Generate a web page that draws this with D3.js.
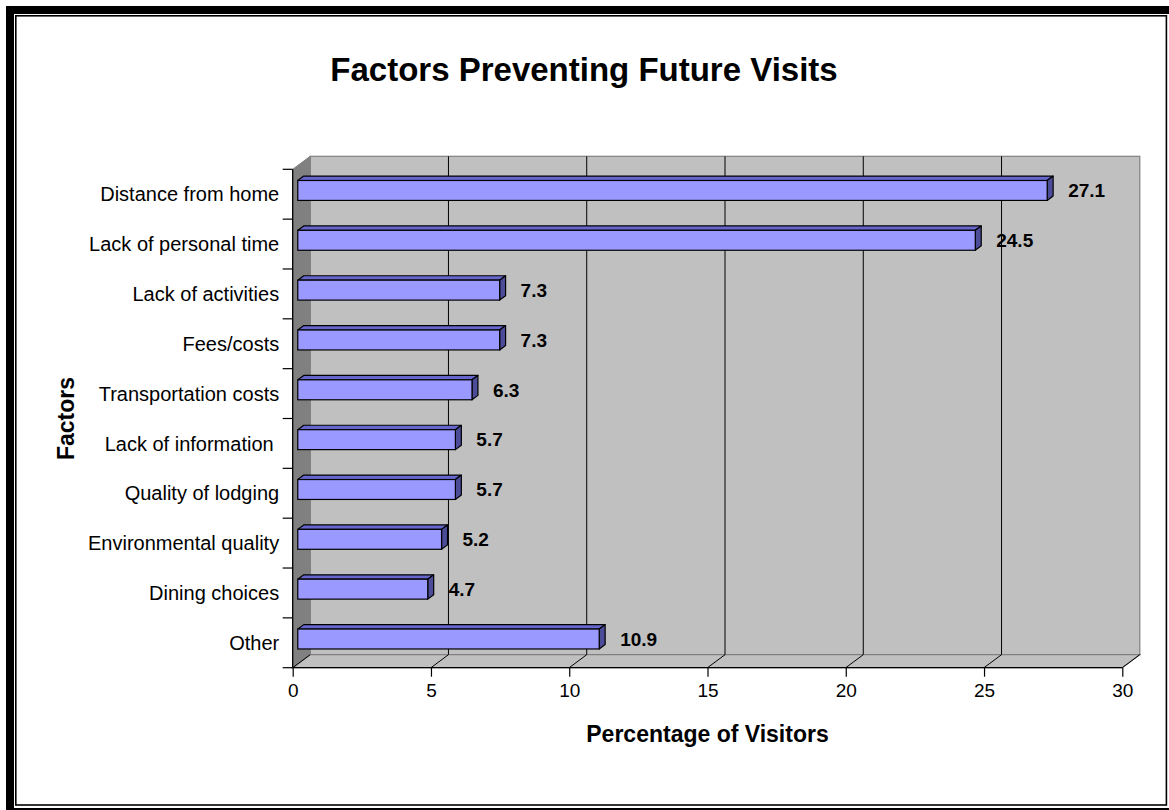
<!DOCTYPE html>
<html>
<head>
<meta charset="utf-8">
<script src="https://cdn.jsdelivr.net/npm/d3@7/dist/d3.min.js"></script>
<style>
  html, body { margin: 0; padding: 0; background: #fff; }
  svg { display: block; font-family: Arial, "Liberation Sans", sans-serif; }
</style>
</head>
<body>
<svg id="chart" width="1169" height="810"></svg>
<script>
// Survey results: share of visitors citing each factor
const categories = [
  "Distance from home",
  "Lack of personal time",
  "Lack of activities",
  "Fees/costs",
  "Transportation costs",
  "Lack of information ",
  "Quality of lodging",
  "Environmental quality",
  "Dining choices",
  "Other"
];
const values = [27.1, 24.5, 7.3, 7.3, 6.3, 5.7, 5.7, 5.2, 4.7, 10.9];
const xTicks = [0, 5, 10, 15, 20, 25, 30];

const title = "Factors Preventing Future Visits";
const xTitle = "Percentage of Visitors";
const yTitle = "Factors";

const svg = d3.select("#chart");

// Frame: heavy outer border plus thin inner rule
svg.append("rect").attr("x", 10).attr("y", 10).attr("width", 1163).attr("height", 802)
  .attr("fill", "#fff").attr("stroke", "#000").attr("stroke-width", 8);
svg.append("rect").attr("x", 15.8).attr("y", 15.8).attr("width", 1150.6).attr("height", 789.2)
  .attr("fill", "none").attr("stroke", "#000").attr("stroke-width", 1.6);

// Front plane of the 3D plot
const x = d3.scaleLinear().domain([0, 30]).range([292.7, 1122.3]);
const y = d3.scaleBand().domain(categories).range([169.3, 667.7]).paddingInner(0).paddingOuter(0);
const DX = 17.5, DY = -13;            // depth vector from front plane to back wall
const F0 = 0.29, F1 = 0.63;           // depth span of bars
const P = (px, py, f) => [px + f * DX, py + f * DY];

const yTop = y.range()[0], yBot = y.range()[1];
const x0 = x(0), x1 = x(30);

const g = svg.append("g");
const poly = (pts) => pts.map(p => p.join(",")).join(" ");

// Back wall
g.append("rect").attr("x", x0 + DX).attr("y", yTop + DY)
  .attr("width", x1 - x0).attr("height", yBot - yTop)
  .attr("fill", "#C0C0C0").attr("stroke", "#808080").attr("stroke-width", 1.2);

// Left side wall
g.append("polygon")
  .attr("points", poly([[x0, yTop], P(x0, yTop, 1), P(x0, yBot, 1), [x0, yBot]]))
  .attr("fill", "#808080").attr("stroke", "#808080").attr("stroke-width", 1);

// Floor
g.append("polygon")
  .attr("points", poly([[x0, yBot], P(x0, yBot, 1), P(x1, yBot, 1), [x1, yBot]]))
  .attr("fill", "#C0C0C0").attr("stroke", "#808080").attr("stroke-width", 1.2);

// Gridlines on back wall and their floor continuations
xTicks.forEach(t => {
  const bx = x(t) + DX;
  if (t > 0 && t < 30) {
    g.append("line").attr("x1", bx).attr("x2", bx).attr("y1", yTop + DY).attr("y2", yBot + DY)
      .attr("stroke", "#000").attr("stroke-width", 1);
  }
  g.append("line").attr("x1", x(t)).attr("y1", yBot).attr("x2", bx).attr("y2", yBot + DY)
    .attr("stroke", "#000").attr("stroke-width", 1);
});

// Front edge of floor (category axis baseline) and the value axis line
g.append("line").attr("x1", x0).attr("x2", x1).attr("y1", yBot).attr("y2", yBot)
  .attr("stroke", "#000").attr("stroke-width", 1.3);
g.append("line").attr("x1", x0).attr("x2", x0).attr("y1", yTop).attr("y2", yBot)
  .attr("stroke", "#000").attr("stroke-width", 1.3);

// Bottom axis ticks and labels
const xAxis = d3.axisBottom(x).tickValues(xTicks).tickSize(9).tickPadding(7).tickFormat(d3.format("d"));
const xa = svg.append("g").attr("transform", `translate(0,${yBot})`).call(xAxis);
xa.select(".domain").remove();
xa.selectAll(".tick line").attr("stroke", "#000").attr("stroke-width", 1.2);
xa.selectAll(".tick text").attr("font-size", 19).attr("fill", "#000")
  .attr("font-family", "Arial, 'Liberation Sans', sans-serif");

// Left axis: ticks at category boundaries, labels centered in bands
const boundaries = categories.map(c => y(c)).concat([yBot]);
svg.append("g").selectAll("line").data(boundaries).join("line")
  .attr("x1", x0 - 10).attr("x2", x0).attr("y1", d => d).attr("y2", d => d)
  .attr("stroke", "#000").attr("stroke-width", 1.2);

svg.append("g").selectAll("text").data(categories).join("text")
  .attr("x", x0 - 13.5)
  .attr("y", d => y(d) + y.bandwidth() / 2)
  .attr("dy", "0.36em")
  .attr("text-anchor", "end")
  .attr("xml:space", "preserve")
  .style("white-space", "pre")
  .attr("font-size", 20)
  .attr("fill", "#000")
  .text(d => d);

// Bars as 3D boxes
const barH = y.bandwidth() * 0.4;
const bars = svg.append("g");
categories.forEach((c, i) => {
  const v = values[i];
  const cy = y(c) + y.bandwidth() / 2;
  const t = cy - barH / 2, b = cy + barH / 2;
  const xl = x(0), xr = x(v);
  // top face
  bars.append("polygon")
    .attr("points", poly([P(xl, t, F0), P(xl, t, F1), P(xr, t, F1), P(xr, t, F0)]))
    .attr("fill", "#6666CC").attr("stroke", "#000").attr("stroke-width", 1.2).attr("stroke-linejoin", "round");
  // end face
  bars.append("polygon")
    .attr("points", poly([P(xr, t, F0), P(xr, t, F1), P(xr, b, F1), P(xr, b, F0)]))
    .attr("fill", "#4C4C99").attr("stroke", "#000").attr("stroke-width", 1.2).attr("stroke-linejoin", "round");
  // front face
  const [fx, fy] = P(xl, t, F0);
  bars.append("rect").attr("x", fx).attr("y", fy)
    .attr("width", xr - xl).attr("height", barH)
    .attr("fill", "#9999FF").attr("stroke", "#000").attr("stroke-width", 1.2);
  // value label
  const [ex] = P(xr, cy, F1);
  bars.append("text")
    .attr("x", ex + 15)
    .attr("y", P(xr, cy, F0)[1])
    .attr("dy", "0.36em")
    .attr("font-size", 19).attr("font-weight", "bold").attr("fill", "#000")
    .text(d3.format(".1f")(v));
});

// Titles
svg.append("text").attr("x", 584).attr("y", 81).attr("text-anchor", "middle")
  .attr("font-size", 33).attr("font-weight", "bold").text(title);
svg.append("text").attr("x", (x0 + x1) / 2).attr("y", 742).attr("text-anchor", "middle")
  .attr("font-size", 23).attr("font-weight", "bold").text(xTitle);
svg.append("text")
  .attr("transform", `translate(74,${(yTop + yBot) / 2}) rotate(-90)`)
  .attr("text-anchor", "middle")
  .attr("font-size", 23).attr("font-weight", "bold").text(yTitle);
</script>
</body>
</html>
